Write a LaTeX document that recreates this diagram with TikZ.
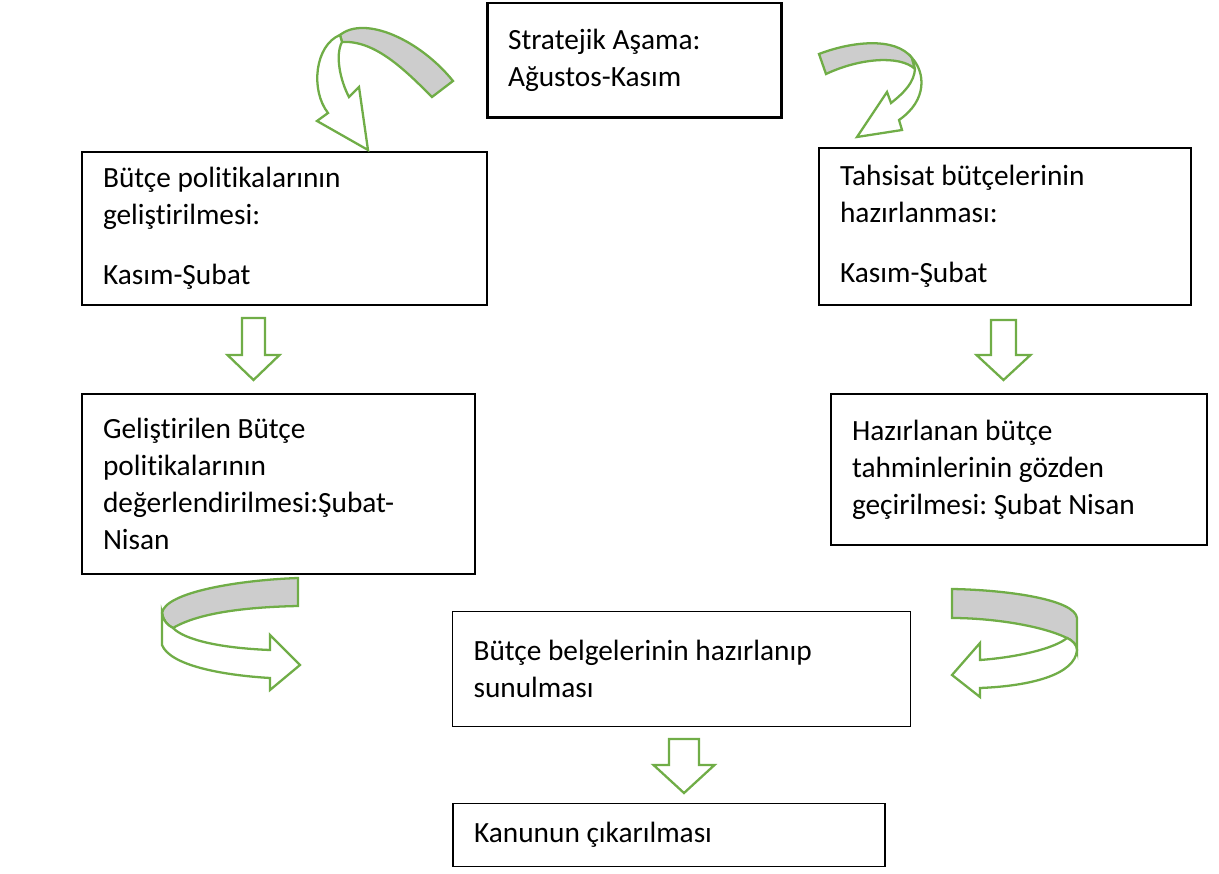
\documentclass[tikz,border=0pt]{standalone}
\usepackage{fontspec}
\setmainfont{Carlito}[Ligatures=NoCommon]
\frenchspacing
\definecolor{arrowgreen}{RGB}{112,173,71}
\definecolor{backgray}{RGB}{205,205,205}
\tikzset{
	box/.style={draw,line width=0.8pt,align=flush left,inner xsep=0.42cm,font=\fontsize{16.7}{21}\selectfont},
	garrow/.style={draw=arrowgreen,line width=1.3pt,fill=white,line join=miter},
	gback/.style={draw=arrowgreen,line width=1.3pt,fill=backgray,line join=miter}
}
\begin{document}
\begin{tikzpicture}[x=0.02cm,y=-0.02cm]
	\useasboundingbox (0,0) rectangle (1219,874);
	% boxes
	\node[box,line width=1.7pt,minimum width=5.9cm,minimum height=2.3cm,text width=5.06cm] (strat) at (634.5,60.5) {Stratejik Aşama:\\Ağustos-Kasım};
	\node[box,minimum width=8.1cm,minimum height=3.06cm,text width=7.26cm] (polL) at (284.5,228.5) {Bütçe politikalarının\\geliştirilmesi:\\[0.46cm]Kasım-Şubat};
	\node[box,minimum width=7.44cm,minimum height=3.14cm,text width=6.6cm] (tahR) at (1005,226.5) {Tahsisat bütçelerinin\\hazırlanması:\\[0.46cm]Kasım-Şubat};
	\node[box,minimum width=7.86cm,minimum height=3.6cm,text width=7.02cm] (degL) at (278.5,484) {Geliştirilen Bütçe\\politikalarının\\değerlendirilmesi:Şubat-\\Nisan};
	\node[box,minimum width=7.52cm,minimum height=3.02cm,text width=6.68cm] (gozR) at (1019,469.5) {Hazırlanan bütçe\\tahminlerinin gözden\\geçirilmesi: Şubat Nisan};
	\node[box,minimum width=9.16cm,minimum height=2.3cm,text width=8.32cm] (belge) at (681.5,669) {Bütçe belgelerinin hazırlanıp\\sunulması};
	\node[box,minimum width=8.64cm,minimum height=1.26cm,text width=7.8cm] (kanun) at (669,835) {Kanunun çıkarılması};
	% down arrows
	\foreach \cx/\sw/\hw/\ya/\yb/\yc in {253.5/11.5/26/318/355/380, 1003.5/12.5/27/320/355/380, 684/15/30.5/739/765/793}
		\draw[garrow] (\cx-\sw,\ya) -- (\cx+\sw,\ya) -- (\cx+\sw,\yb) -- (\cx+\hw,\yb) -- (\cx,\yc) -- (\cx-\hw,\yb) -- (\cx-\sw,\yb) -- cycle;
	% curved arrows
	\draw[gback] (340,35) .. controls (365,15) and (420,40) .. (453,81) -- (432,97) .. controls (405,70) and (375,40) .. (342,42) -- cycle;
	\draw[garrow] (340,35) .. controls (315,45) and (310,90) .. (328,113) -- (317,121) -- (368,150) -- (359,87) -- (349,97) .. controls (340,80) and (335,55) .. (342,42) -- cycle;
	\draw[gback] (819,54) .. controls (850,42) and (895,36) .. (912,58) -- (915,69) .. controls (900,55) and (860,58) .. (826,74) -- cycle;
	\draw[garrow] (912,58) .. controls (925,72) and (928,100) .. (899,120) -- (902,130) -- (857,137) -- (887,92) -- (891,103) .. controls (905,92) and (914,82) .. (915,69) -- cycle;
	\draw[gback] (298,578) .. controls (240,580) and (165,592) .. (162,613) .. controls (163,620) and (167,625) .. (173,628) .. controls (200,612) and (250,607) .. (298,606) -- cycle;
	\draw[garrow] (162,613) -- (162,645) .. controls (170,665) and (220,675) .. (270,678) -- (270,690) -- (300,665) -- (270,635) -- (270,650) .. controls (220,648) and (185,640) .. (173,628) .. controls (167,625) and (163,620) .. (162,613) -- cycle;
	\draw[gback] (952,589) .. controls (1010,590) and (1075,600) .. (1077,618) -- (1077,650) .. controls (1077,645) and (1072,640) .. (1067,638) .. controls (1040,625) and (990,618) .. (952,618) -- cycle;
	\draw[garrow] (1077,650) .. controls (1075,675) and (1030,686) .. (980,688) -- (980,697) -- (952,675) -- (980,643) -- (980,660) .. controls (1020,657) and (1055,648) .. (1067,638) .. controls (1072,640) and (1077,645) .. (1077,650) -- cycle;
\end{tikzpicture}
\end{document}
